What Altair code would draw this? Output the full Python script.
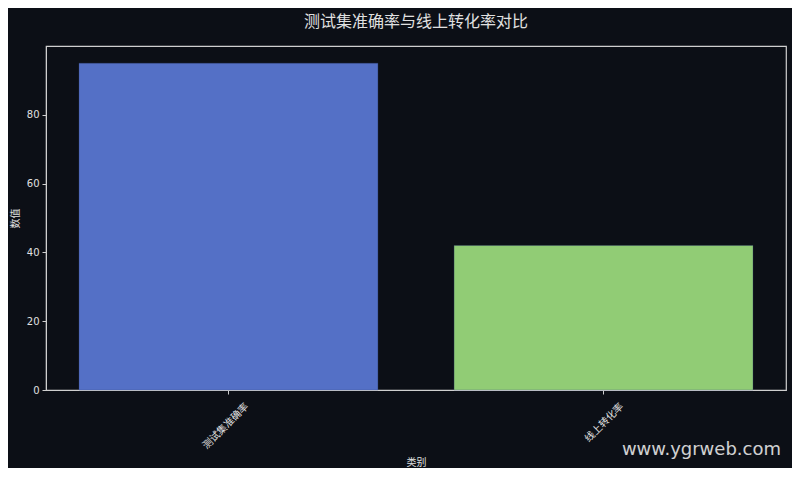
import altair as alt
import pandas as pd

categories = ["测试集准确率", "线上转化率"]
values = [95, 42]
colors = ["#5470c6", "#91cc75"]

df = pd.DataFrame({"类别": categories, "数值": values})

BG = "#0c0f16"
TXT = "#e0e0e0"
FONT = "DejaVu Sans, Noto Sans CJK SC"

bars = alt.Chart(df).mark_bar(stroke="#3a4a80", strokeWidth=0.3).encode(
    x=alt.X("类别:N", sort=categories,
            scale=alt.Scale(paddingInner=0.203, paddingOuter=0.088),
            axis=alt.Axis(title="类别", labelAngle=-45, labelAlign="right",
                          labelBaseline="top", labelPadding=7, labelOffset=15,
                          titleY=72, titleBaseline="middle")),
    y=alt.Y("数值:Q", scale=alt.Scale(domain=[0, 100], nice=False),
            axis=alt.Axis(title="数值", values=[0, 20, 40, 60, 80],
                          titleX=-31, titleY=172, titleBaseline="middle",
                          titleAlign="center", titleAngle=-90)),
    color=alt.Color("类别:N", sort=categories,
                    scale=alt.Scale(domain=categories, range=colors), legend=None),
)

wm = alt.Chart(pd.DataFrame({"t": ["www.ygrweb.com"]})).mark_text(
    align="right", baseline="alphabetic", fontSize=18, font="DejaVu Sans",
    color="#e6e6e6", opacity=0.9
).encode(x=alt.value(735), y=alt.value(409), text="t:N")

chart = alt.layer(bars, wm).properties(
    width=740, height=344,
    title=alt.TitleParams("测试集准确率与线上转化率对比", fontSize=16, color=TXT,
                          font="Noto Sans CJK SC", fontWeight="normal", offset=16, anchor="middle"),
    autosize=alt.AutoSizeParams(type="none"),
    padding={"left": 38, "top": 38, "right": 6, "bottom": 78},
    background=BG,
).configure_view(stroke="#cfcfcf", strokeWidth=1.2).configure_axis(
    labelColor=TXT, titleColor=TXT, labelFont=FONT, titleFont="Noto Sans CJK SC",
    labelFontSize=10, titleFontSize=10, titleFontWeight="normal",
    tickColor="#cfcfcf", domainColor="#cfcfcf", grid=False, tickSize=4,
    labelPadding=3,
)

chart.save("out.html", embed_options={"renderer": "svg", "actions": False})
